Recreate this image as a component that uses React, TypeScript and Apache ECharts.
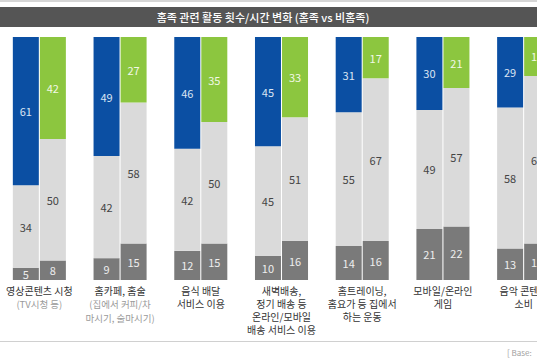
import React, { useEffect, useRef } from "react";
import * as echarts from "echarts";

const categoryMain = [
  "영상콘텐츠 시청",
  "홈카페, 홈술",
  "음식 배달\n서비스 이용",
  "새벽배송,\n정기 배송 등\n온라인/모바일\n배송 서비스 이용",
  "홈트레이닝,\n홈요가 등 집에서\n하는 운동",
  "모바일/온라인\n게임",
  "음악 콘텐츠\n소비",
];
const categorySub = [
  "(TV시청 등)",
  "(집에서 커피/차\n마시기, 술마시기)",
  "",
  "",
  "",
  "",
  "",
];

// 홈족 (home-stayers)
const homeDecrease = [5, 9, 12, 10, 14, 21, 13];
const homeSame = [34, 42, 42, 45, 55, 49, 58];
const homeIncrease = [61, 49, 46, 45, 31, 30, 29];
// 비홈족 (non home-stayers)
const nonDecrease = [8, 15, 15, 16, 16, 22, 15];
const nonSame = [50, 58, 50, 51, 67, 57, 69];
const nonIncrease = [42, 27, 35, 33, 17, 21, 16];

const titleText = "홈족 관련 활동 횟수/시간 변화 (홈족 vs 비홈족)";
const baseText = "[ Base:";

const BLUE = "#0b4fa3";
const GREEN = "#8cc63f";
const LIGHT = "#dadada";
const DARK = "#7a7a7a";
const FONT = "'Noto Sans CJK KR', 'Noto Sans', sans-serif";

export default function App() {
  const ref = useRef<HTMLDivElement>(null);
  useEffect(() => {
    document.body.style.margin = "0";
    const chart = echarts.init(ref.current!, undefined, { renderer: "svg" });
    const seg = (
      name: string,
      stack: string,
      data: number[],
      color: string,
      labelColor: string
    ) => ({
      name,
      type: "bar",
      stack,
      data,
      barWidth: 26,
      barGap: "4%",
      itemStyle: { color },
      label: {
        show: true,
        position: "inside",
        color: labelColor,
        fontSize: 11,
        fontFamily: FONT,
      },
    });
    chart.setOption({
      animation: false,
      backgroundColor: "#ffffff",
      textStyle: { fontFamily: FONT },
      grid: {
        left: -1,
        width: 565,
        top: 37,
        bottom: 80,
        outerBoundsMode: "none",
        containLabel: false,
      },
      xAxis: {
        type: "category",
        data: categoryMain.map((m, i) => i),
        axisLine: { show: false },
        axisTick: { show: false },
        axisLabel: {
          interval: 0,
          margin: 4,
          hideOverlap: false,
          formatter: (v: string) => {
            const i = Number(v);
            const lines: string[] = categoryMain[i].split("\n").map((l) => `{m|${l}}`);
            if (categorySub[i]) {
              categorySub[i].split("\n").forEach((l) => lines.push(`{s|${l}}`));
            }
            return lines.join("\n");
          },
          rich: {
            m: { fontSize: 10, color: "#333333", lineHeight: 13, fontFamily: FONT },
            s: { fontSize: 9.5, color: "#9a9a9a", lineHeight: 14, fontFamily: FONT },
          },
        },
      },
      yAxis: { type: "value", min: 0, max: 100, show: false },
      graphic: [
        { type: "rect", shape: { x: 0, y: 0, width: 537, height: 2 }, style: { fill: "#d6d6d6" } },
        { type: "rect", shape: { x: 0, y: 7, width: 537, height: 20 }, style: { fill: "#555555" } },
        {
          type: "text",
          x: 263,
          y: 17,
          style: {
            text: titleText,
            fill: "#ffffff",
            fontSize: 11,
            fontWeight: 500,
            fontFamily: FONT,
            textAlign: "center",
            textVerticalAlign: "middle",
          },
        },
        { type: "rect", shape: { x: 0, y: 341, width: 537, height: 1 }, style: { fill: "#d0d0d0" } },
        {
          type: "text",
          x: 507,
          y: 352,
          style: {
            text: baseText,
            fill: "#a0a0a0",
            fontSize: 8,
            fontFamily: FONT,
            textVerticalAlign: "middle",
          },
        },
      ],
      series: [
        seg("홈족 감소", "home", homeDecrease, DARK, "#eeeeee"),
        seg("홈족 유지", "home", homeSame, LIGHT, "#444444"),
        seg("홈족 증가", "home", homeIncrease, BLUE, "#dbe5f3"),
        seg("비홈족 감소", "non", nonDecrease, DARK, "#eeeeee"),
        seg("비홈족 유지", "non", nonSame, LIGHT, "#444444"),
        seg("비홈족 증가", "non", nonIncrease, GREEN, "#f2f8e6"),
      ],
    });
    return () => chart.dispose();
  }, []);
  return <div ref={ref} style={{ width: 537, height: 360 }} />;
}
